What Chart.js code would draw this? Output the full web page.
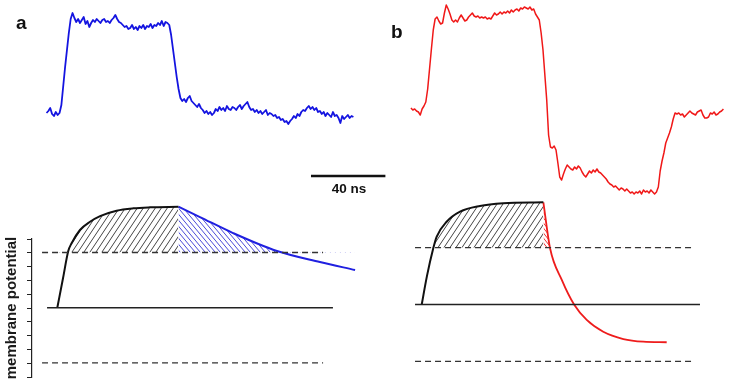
<!DOCTYPE html>
<html>
<head>
<meta charset="utf-8">
<script src="https://cdn.jsdelivr.net/npm/chart.js@4.4.1/dist/chart.umd.min.js"></script>
<style>
  html, body { margin: 0; padding: 0; background: #fff; }
  #wrap { position: relative; width: 729px; height: 383px; overflow: hidden; font-family: "Liberation Sans", Arial, sans-serif; }
  #wrap canvas { position: absolute; top: 0; }
  .panel-label { position: absolute; font-weight: bold; font-size: 19px; line-height: 19px; color: #111; }
  #scale-label { position: absolute; left: 309px; top: 182px; width: 80px; text-align: center; font-weight: bold; font-size: 13.5px; line-height: 14px; color: #111; }
</style>
</head>
<body>
<div id="wrap">
  <canvas id="panel-a" width="400" height="383" style="left:0"></canvas>
  <canvas id="panel-b" width="372" height="383" style="left:357px"></canvas>
  <canvas id="axis-a" width="40" height="383" style="left:0"></canvas>
  <div class="panel-label" style="left:16px;top:13px">a</div>
  <div class="panel-label" style="left:391px;top:22px">b</div>
  <div id="scale-label">40 ns</div>
</div>
<script>
// --- recorded traces (signal, a.u.), one sample per ns ---
const STEP_NS = 1;
const traceA_t0 = 0;
const traceA = [
  0, 2, 5, -1, -3, 1, -2, 0,
  8, 27, 46, 63, 80, 94, 100,
  95, 91, 94, 90, 93, 96, 89, 92,
  86, 90, 93, 91, 94, 92, 90, 93,
  94, 91, 92, 90, 93, 95, 98, 94, 91, 90,
  88, 86, 87, 84, 85, 88, 84, 86, 83, 87,
  85, 88, 84, 87, 86, 89, 85, 88, 87, 90,
  88, 92, 87, 91, 90, 88,
  78, 64, 50, 36, 24, 15, 12,
  14, 11, 15, 17, 12, 10, 8,
  6, 9, 5, 3, 0, 2, -1, 1, -2, 0,
  4, 2, 6, 3, 5, 2, 7, 4, 3, 6,
  5, 3, 6, 8, 4, 7, 9, 11, 6, 3,
  4, 1, 3, 0, 2, -1, 1, 3, -2, 0,
  -1, -3, -2, -5, -4, -7, -6, -9, -8, -11,
  -8, -6, -3, -5, -1, -3, 1, 3, 2, 5,
  7, 4, 6, 3, 5, 1, 2, -1, 1, -3,
  0, -2, -4, 1, -3, -2, -5, -10, -3, -6,
  -4, -2, -5, -3, -4,
];
const traceB_t0 = 4;
const traceB = [
  5, 3, 4, 2, 1, -2, 4, 7, 11, 24,
  44, 64, 83, 94, 96, 92, 89, 90, 100, 108,
  104, 99, 93, 91, 93, 91, 95, 98, 95, 92,
  93, 96, 98, 100, 97, 96, 97, 95, 96, 95,
  96, 94, 95, 94, 97, 100, 98, 99, 101, 99,
  101, 100, 102, 100, 103, 101, 103, 104, 102, 105,
  104, 106, 105, 104, 106, 103, 104, 99, 96, 93,
  80, 63, 38, 13, -22, -34, -35, -33, -37, -50,
  -64, -67, -61, -56, -52, -54, -56, -57, -54, -56,
  -53, -55, -59, -62, -64, -61, -58, -60, -57, -59,
  -56, -59, -60, -62, -64, -66, -69, -71, -72, -74,
  -73, -75, -77, -75, -76, -78, -76, -78, -80, -79,
  -81, -79, -80, -78, -81, -77, -79, -78, -80, -77,
  -79, -81, -79, -74, -58, -48, -40, -30, -25, -20,
  -14, -6, 0, -1, 0, -2, -1, -4, -2, 0,
  2, 0, -1, -2, 1, 2, 3, -2, -5, -5,
  -4, 0, -1, 1, -2, -1, 1, 2, 4,
];

// --- membrane potential schematics (ns, a.u.) ---
const riseA_t = [5.8, 8.9, 11.7, 13.5, 18.0, 23.4, 28.8, 37.7, 46.7, 55.6, 70.9];
const riseA_v = [0, 21.5, 41.1, 46.7, 56.3, 62.3, 66.4, 70.3, 72.0, 72.7, 73.2];
const decayA_t = [70.9, 82.5, 100.3, 123.9, 147.0, 165.9];
const decayA_v = [73.2, 65.7, 54.1, 41.1, 33.1, 27.3];
const riseB_t = [9.8, 12.6, 16.0, 17.8, 23.2, 30.4, 41.1, 53.7, 75.2];
const riseB_v = [0, 20, 39.6, 47.7, 58.3, 65.4, 69.4, 71.3, 72.0];
const decayB_t = [75.2, 78.8, 85.1, 91.7, 98.5, 107.4, 118.2, 128.9, 141.5];
const decayB_v = [72.0, 39.6, 17.3, 0, -10.9, -19.2, -24.3, -26.2, -26.6];

const THRESH_HI = 40;
const THRESH_LO = -40;
const REST = 0;
const guideA_t = [-2.4, 148.7];   // dashed threshold lines, panel a
const restA_t = [0.3, 154.0];
const guideB_t = [6.2, 156.7];
const restB_t = [6.2, 159.4];

// left axis of panel a
const AXIS_MIN = -50, AXIS_MAX = 50, AXIS_STEP = 10;

// scale bar
const SCALE_NS = 40;
const SCALE_START = 142.2;
const SCALE_LEVEL = -63;

// --- layout constants ---
const PX_PER_NS = 1.86;
const T_MIN = -25;
const SIG_MIN = -270, SIG_MAX = 113;

const series = (t0, vals) => vals.map((v, i) => ({ x: t0 + i * STEP_NS, y: v }));
const pts = (ts, vs) => ts.map((t, i) => ({ x: t, y: vs[i] }));
const flat = (ts, v) => ts.map(t => ({ x: t, y: v }));

function hatch(canvas, color, dir, w, h) {
  const tile = document.createElement('canvas');
  tile.width = w; tile.height = h;
  const g = tile.getContext('2d');
  g.strokeStyle = color;
  g.lineWidth = 1;
  for (const k of [-1, 0, 1]) {
    g.beginPath();
    if (dir === '/') { g.moveTo(k * w, h); g.lineTo(k * w + w, 0); }
    else { g.moveTo(k * w, 0); g.lineTo(k * w + w, h); }
    g.stroke();
  }
  return canvas.getContext('2d').createPattern(tile, 'repeat');
}

function panelOptions(width, memMin, memMax) {
  return {
    responsive: false,
    animation: false,
    events: [],
    layout: { padding: 0, autoPadding: false },
    plugins: { legend: { display: false }, tooltip: { enabled: false } },
    elements: { point: { radius: 0 }, line: { borderJoinStyle: 'round' } },
    scales: {
      x: { type: 'linear', display: false, min: T_MIN, max: T_MIN + width / PX_PER_NS },
      ySig: { type: 'linear', display: false, min: SIG_MIN, max: SIG_MAX },
      yMem: { type: 'linear', display: false, min: memMin, max: memMax },
    },
  };
}

const guideStyle = { yAxisID: 'yMem', borderColor: '#333', borderWidth: 1.3, borderDash: [6, 4], fill: false };
const restStyle = { yAxisID: 'yMem', borderColor: '#222', borderWidth: 1.5, fill: false };

// === panel a ===
const canvasA = document.getElementById('panel-a');
new Chart(canvasA, {
  type: 'line',
  data: {
    datasets: [
      { ...guideStyle, data: flat(guideA_t, THRESH_HI) },
      { ...guideStyle, data: flat(guideA_t, THRESH_LO) },
      { ...restStyle, data: flat(restA_t, REST) },
      {
        yAxisID: 'yMem', data: pts(riseA_t, riseA_v), borderColor: '#111', borderWidth: 2,
        cubicInterpolationMode: 'monotone',
        fill: { target: { value: THRESH_HI }, above: hatch(canvasA, '#444', '/', 6, 9), below: 'rgba(0,0,0,0)' },
      },
      {
        yAxisID: 'yMem', data: pts(decayA_t, decayA_v), borderColor: '#2020e0', borderWidth: 2,
        cubicInterpolationMode: 'monotone',
        fill: { target: { value: THRESH_HI }, above: hatch(canvasA, '#4a4ad8', '\\', 5, 6), below: 'rgba(0,0,0,0)' },
      },
      { yAxisID: 'ySig', data: series(traceA_t0, traceA), borderColor: '#1414e0', borderWidth: 1.8, fill: false },
      {
        yAxisID: 'ySig', data: flat([SCALE_START, SCALE_START + SCALE_NS], SCALE_LEVEL),
        borderColor: '#111', borderWidth: 2.5, borderCapStyle: 'butt', fill: false,
      },
    ],
  },
  options: panelOptions(400, -75.3 / 1.38, 307.7 / 1.38),
});

// === panel b ===
const canvasB = document.getElementById('panel-b');
new Chart(canvasB, {
  type: 'line',
  data: {
    datasets: [
      { ...guideStyle, data: flat(guideB_t, THRESH_HI) },
      { ...guideStyle, data: flat(guideB_t, THRESH_LO) },
      { ...restStyle, data: flat(restB_t, REST) },
      {
        yAxisID: 'yMem', data: pts(riseB_t, riseB_v), borderColor: '#111', borderWidth: 2,
        cubicInterpolationMode: 'monotone',
        fill: { target: { value: THRESH_HI }, above: hatch(canvasB, '#444', '/', 6, 9), below: 'rgba(0,0,0,0)' },
      },
      {
        yAxisID: 'yMem', data: pts(decayB_t, decayB_v), borderColor: '#ee1c1c', borderWidth: 1.8,
        cubicInterpolationMode: 'monotone',
        fill: { target: { value: THRESH_HI }, above: hatch(canvasB, '#e33', '\\', 4, 5), below: 'rgba(0,0,0,0)' },
      },
      { yAxisID: 'ySig', data: series(traceB_t0, traceB), borderColor: '#f01818', borderWidth: 1.5, fill: false },
    ],
  },
  options: panelOptions(372, -78.5 / 1.42, 304.5 / 1.42),
});

// === left axis, panel a ===
new Chart(document.getElementById('axis-a'), {
  type: 'line',
  data: { datasets: [] },
  options: {
    responsive: false,
    animation: false,
    events: [],
    layout: { padding: { top: 239, bottom: 6, left: 0, right: 0 }, autoPadding: false },
    plugins: { legend: { display: false }, tooltip: { enabled: false } },
    scales: {
      x: { type: 'linear', display: false },
      y: {
        type: 'linear', position: 'left', min: AXIS_MIN, max: AXIS_MAX,
        ticks: { stepSize: AXIS_STEP, display: false },
        grid: { drawOnChartArea: false, drawTicks: true, tickLength: 5, color: '#222', lineWidth: 1 },
        border: { display: true, color: '#222', width: 1.2 },
        title: {
          display: true, text: 'membrane potential', color: '#1a1a1a',
          font: { family: '"Liberation Sans", Arial, sans-serif', size: 15, weight: 'bold' },
          padding: { top: 3, bottom: 0 },
        },
        afterFit: s => { s.width = 32; },
      },
    },
  },
});
</script>
</body>
</html>
